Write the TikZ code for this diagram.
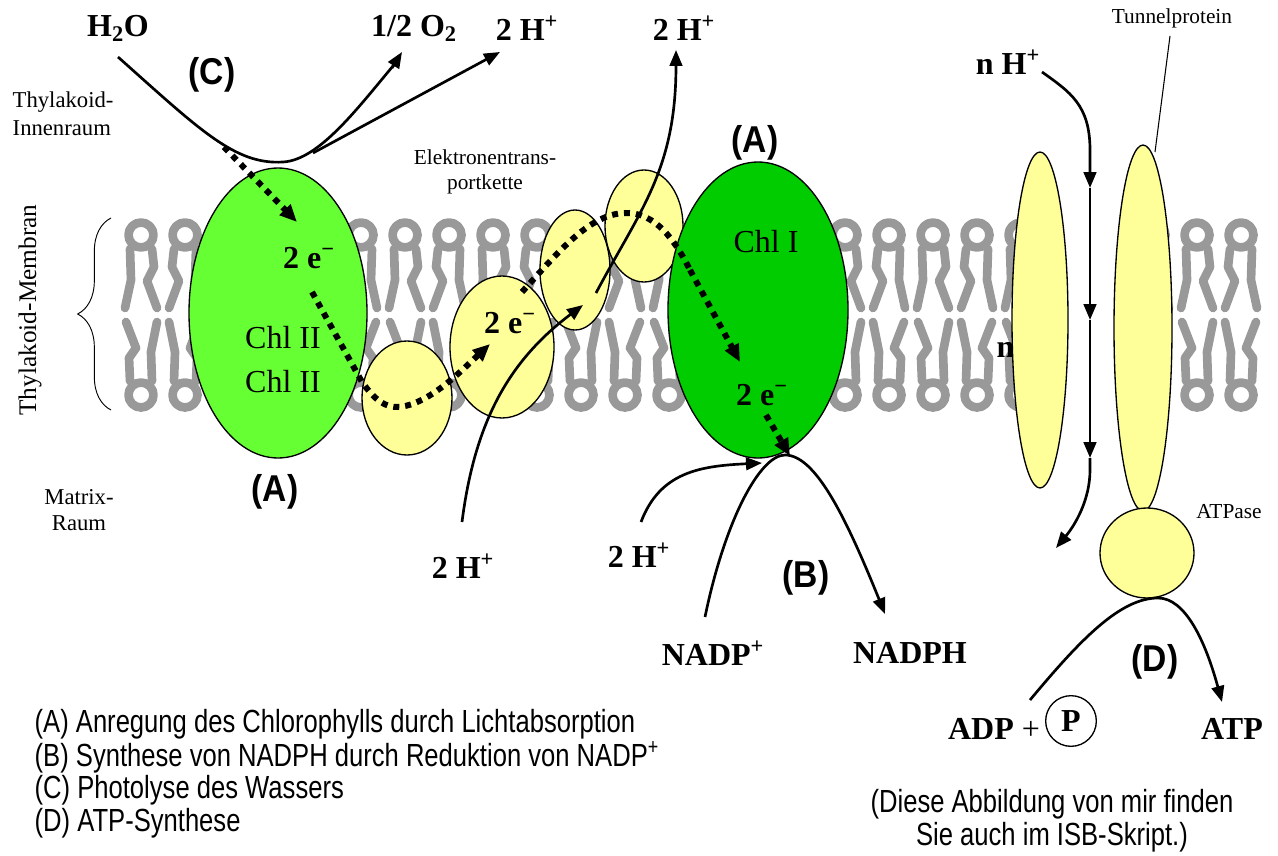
\documentclass[tikz,border=0pt]{standalone}
\usepackage{fontspec}
\setmainfont{Liberation Serif}
\setsansfont{Liberation Sans}
\newfontfamily\schmal{Liberation Sans}[FakeStretch=0.8]
\newfontfamily\schmalfett{Liberation Sans Bold}[FakeStretch=0.9]
\usetikzlibrary{arrows.meta,decorations.pathreplacing}

\definecolor{chlhell}{HTML}{66FF33}
\definecolor{chldunkel}{HTML}{00CC00}
\definecolor{protein}{HTML}{FFFF99}
\definecolor{lipidgrau}{HTML}{999999}

\tikzset{
  lipid/.style={lipidgrau, line width=6.5pt, line cap=round, line join=round},
  prot/.style={draw=black, line width=1pt, fill=protein},
  pfeil/.style={line width=2pt, -{Triangle[length=12pt,width=9.5pt]}},
  punkte/.style={line width=4.5pt, dash pattern=on 4.5pt off 4.5pt, -{Triangle[length=13pt,width=11pt]}},
  stoff/.style={font=\bfseries\fontsize{24}{26}\selectfont},
  chltext/.style={font=\fontsize{24}{26}\selectfont},
  klein/.style={font=\fontsize{16}{19}\selectfont, align=center},
  buchst/.style={font=\schmalfett\fontsize{28}{30}\selectfont},
  legende/.style={font=\schmal\fontsize{24}{25}\selectfont, anchor=west},
}

\begin{document}
\begin{tikzpicture}[x=0.75pt,y=-0.75pt]
  \useasboundingbox (0,0) rectangle (1278,856);
  % Lipid-Doppelschicht (oben und unten)
  \foreach \k in {0,...,20,23,24,25}{
    \pgfmathsetmacro\x{141+44*\k}
    \pgfmathsetmacro\s{ifthenelse(mod(\k,2)==0,1,-1)}
    \draw[lipid] (\x,235) circle (12.5);
    \draw[lipid] (\x-11*\s,249) -- (\x-10*\s,280) -- (\x-16*\s,308);
    \draw[lipid] (\x+11*\s,249) -- (\x+13*\s,267) -- (\x+6*\s,281) -- (\x+16*\s,308);
    \draw[lipid] (\x,395) circle (12.5);
    \draw[lipid] (\x-11*\s,381) -- (\x-12*\s,358) -- (\x-5*\s,348) -- (\x-15*\s,322);
    \draw[lipid] (\x+11*\s,381) -- (\x+10*\s,352) -- (\x+16*\s,322);
  }
  % Klammer und Beschriftung links
  \draw[line width=0.7pt, decorate, decoration={brace, amplitude=25pt}] (111,410) -- (111,218);
  \node[rotate=90, font=\fontsize{19}{21}\selectfont] (membran) at (30,310) {Thylakoid-Membran};
  \node[klein, font=\fontsize{17}{21}\selectfont, align=left, anchor=west] (innen) at (8,114) {Thylakoid-\\Innenraum};
  \node[klein, font=\fontsize{17}{20}\selectfont] (matrix) at (79,510) {Matrix-\\Raum};
  \node[klein] (etk) at (485,172) {Elektronentrans-\\portkette};

  % Chlorophyll II und Elektronentransportkette
  \draw[line width=1pt, fill=chlhell] (278,313) ellipse [x radius=89, y radius=145];
  \draw[prot] (407,398) ellipse [x radius=45, y radius=57];
  \draw[prot] (502,347) ellipse [x radius=52, y radius=71];
  \draw[prot] (644,226) ellipse [x radius=39, y radius=56];
  \draw[prot] (575,270) ellipse [x radius=35, y radius=60];
  % Chlorophyll I
  \draw[line width=1pt, fill=chldunkel] (758,310) ellipse [x radius=90, y radius=148];

  \node[chltext] (chl2a) at (283,338) {Chl II};
  \node[chltext] (chl2b) at (283,382) {Chl II};
  \node[chltext] (chl1) at (766,242) {Chl I};
  \node[stoff] (e1) at (309,258) {2 e\textsuperscript{−}};
  \node[stoff] (e2) at (510,323) {2 e\textsuperscript{−}};
  \node[stoff] (e3) at (762,395) {2 e\textsuperscript{−}};

  % Tunnelprotein mit ATPase
  \node[stoff, anchor=west] (nh2) at (992,345) {n H\textsuperscript{+}};
  \draw[prot] (1040,320) ellipse [x radius=28, y radius=168];
  \draw[prot] (1143,328) ellipse [x radius=29, y radius=183];
  \draw[prot] (1147,553) ellipse [x radius=47, y radius=45];
  \node[klein] (tunnel) at (1172,18) {Tunnelprotein};
  \node[klein] (atpase) at (1229,512) {ATPase};
  \draw[line width=0.8pt] (1170,36) -- (1155,152);

  % Stoffe oben
  \node[stoff] (h2o) at (118,28) {H\textsubscript{2}O};
  \node[stoff] (o2) at (414,28) {1/2 O\textsubscript{2}};
  \node[stoff] (hplus1) at (527,28) {2 H\textsuperscript{+}};
  \node[stoff] (hplus2) at (684,28) {2 H\textsuperscript{+}};
  \node[stoff] (nh1) at (1008,62) {n H\textsuperscript{+}};
  % Stoffe unten
  \node[stoff] (hplus3) at (463,566) {2 H\textsuperscript{+}};
  \node[stoff] (hplus4) at (639,555) {2 H\textsuperscript{+}};
  \node[stoff] (nadp) at (713,653) {NADP\textsuperscript{+}};
  \node[stoff] (nadph) at (910,653) {NADPH};
  \node[stoff] (adp) at (994,729) {ADP \textmd{+}};
  \node[stoff, circle, draw, line width=1pt, minimum size=38pt, inner sep=0pt] (phosphat) at (1071,721) {P};
  \node[stoff] (atp) at (1232,729) {ATP};

  % Buchstaben
  \node[buchst] (buchC) at (212,75) {(C)};
  \node[buchst] (buchA1) at (755,143) {(A)};
  \node[buchst] (buchA2) at (275,492) {(A)};
  \node[buchst] (buchB) at (806,578) {(B)};
  \node[buchst] (buchD) at (1155,662) {(D)};

  % (C) Photolyse
  \draw[line width=2pt] (118,57) .. controls (200,130) and (235,165) .. (283,162)
    .. controls (320,160) and (360,105) .. (398,60);
  \draw[pfeil] (392,68) -- (402,52);
  \draw[pfeil] (313,153) -- (500,52);

  % Elektronenweg (gepunktet)
  \draw[punkte] (224,147) -- (297,222);
  \draw[punkte] (312,292) -- (362,382) .. controls (375,400) and (385,408) .. (400,407)
    .. controls (430,403) and (460,372) .. (490,344);
  \draw[line width=4.5pt, dash pattern=on 4.5pt off 4.5pt] (522,292) .. controls (560,250) and (590,214) .. (625,213)
    .. controls (655,212) and (675,240) .. (690,270);
  \draw[punkte] (690,270) -- (740,362);
  \draw[punkte] (766,415) -- (790,456);

  % Protonen durch die Elektronentransportkette
  \draw[pfeil] (462,522) .. controls (475,420) and (510,360) .. (583,305);
  \draw[pfeil] (596,293) .. controls (640,210) and (676,170) .. (676,50);

  % (B) NADPH-Bildung
  \draw[pfeil] (705,617) .. controls (725,520) and (760,455) .. (785,455)
    .. controls (815,455) and (845,515) .. (885,614);
  \draw[pfeil] (641,522) .. controls (660,472) and (700,466) .. (762,463);

  % Protonen durch das Tunnelprotein
  \draw[pfeil] (1042,72) .. controls (1070,92) and (1090,105) .. (1090,150) -- (1090,188);
  \draw[pfeil] (1090,188) -- (1090,320);
  \draw[pfeil] (1090,320) -- (1090,458);
  \draw[pfeil] (1090,458) -- (1090,470) .. controls (1090,500) and (1075,525) .. (1056,548);

  % (D) ATP-Synthese
  \draw[pfeil] (1030,700) .. controls (1080,640) and (1120,598) .. (1158,598)
    .. controls (1185,598) and (1205,640) .. (1222,702);

  % Legende
  \foreach \y/\t in {724/(A) Anregung des Chlorophylls durch Lichtabsorption,
                     757/(B) Synthese von NADPH durch Reduktion von NADP\textsuperscript{+},
                     790/(C) Photolyse des Wassers,
                     823/(D) ATP-Synthese}
    \node[legende] at (30,\y) {\t};
  \node[font=\schmal\fontsize{24}{25}\selectfont, align=center] (hinweis) at (1052,821) {(Diese Abbildung von mir finden\\Sie auch im ISB-Skript.)};
\end{tikzpicture}
\end{document}
